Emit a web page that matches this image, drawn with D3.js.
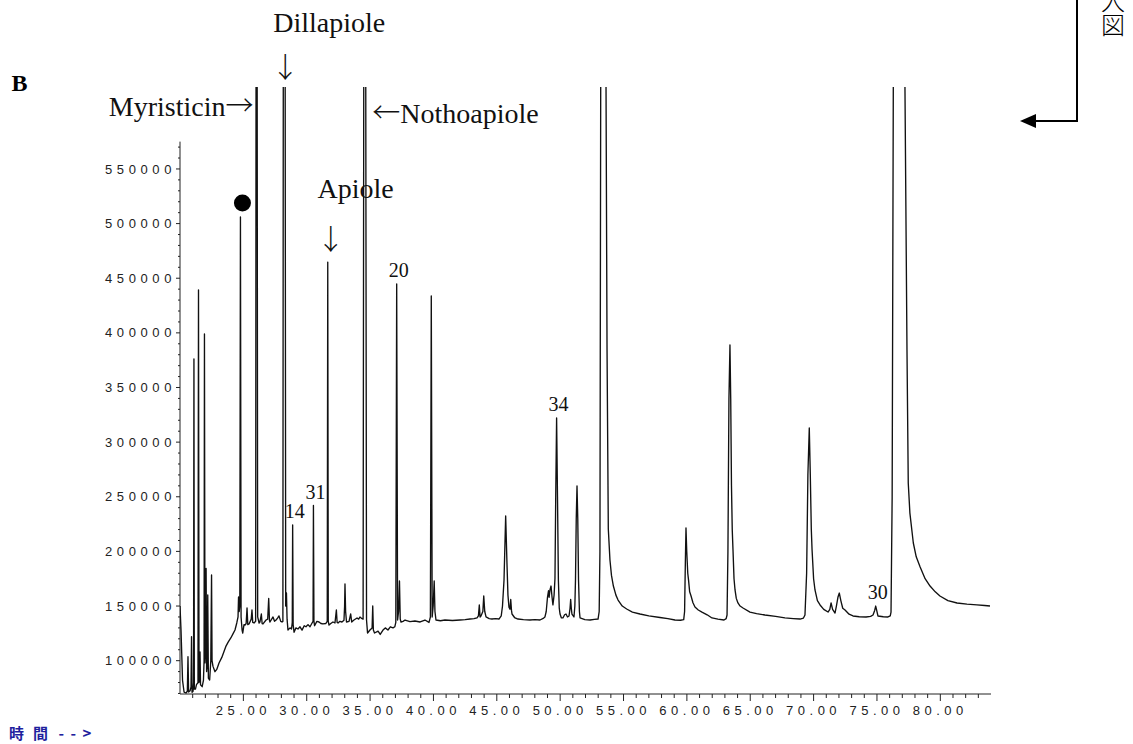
<!DOCTYPE html>
<html>
<head>
<meta charset="utf-8">
<script src="https://cdn.jsdelivr.net/npm/d3@7"></script>
<style>
  body { margin: 0; background: #fff; }
  svg { display: block; }
</style>
</head>
<body>
<div id="chart"></div>
<script>
// total ion chromatogram: [retention time (min), abundance]
const traceEarly = [
  [20.00, 150000], [20.08, 128000], [20.20, 82000], [20.32, 71300], [20.47, 70400],
  [20.58, 72000], [20.63, 103600], [20.68, 71300], [20.80, 72500], [20.87, 76000],
  [20.91, 121900], [20.95, 71000], [21.03, 72000], [21.07, 80000], [21.10, 376100],
  [21.13, 74000], [21.22, 74000], [21.30, 78000], [21.42, 80000], [21.46, 439200],
  [21.50, 80000], [21.55, 84000], [21.58, 107900], [21.62, 78000], [21.75, 76200],
  [21.85, 82000], [21.90, 100000], [21.93, 399000], [21.97, 98000], [22.02, 110000],
  [22.06, 184400], [22.10, 90000], [22.14, 95000], [22.19, 160100], [22.24, 84000],
  [22.34, 82300], [22.43, 100000], [22.49, 178400], [22.53, 100000], [22.60, 95000],
  [22.76, 89900], [22.90, 92000], [23.08, 97900], [23.30, 103000], [23.61, 112800],
  [23.80, 117000], [24.01, 120800], [24.20, 125000], [24.34, 128100], [24.48, 134500],
  [24.58, 140000], [24.62, 158300], [24.67, 145000], [24.72, 150000], [24.77, 506100],
  [24.82, 140000], [24.90, 128000], [24.95, 125300], [25.05, 133000], [25.13, 132600],
  [25.22, 134000], [25.29, 148200], [25.35, 133000], [25.45, 133600], [25.62, 138000],
  [25.68, 146400], [25.74, 135000], [25.84, 134500], [25.97, 136000], [26.00, 625000],
  [26.04, 900000], [26.09, 625000], [26.13, 140000], [26.24, 134500], [26.31, 135400],
  [26.42, 142700], [26.48, 134000], [26.55, 133600], [26.79, 137200], [26.92, 138000],
  [27.00, 156900], [27.06, 137000], [27.10, 135400], [27.34, 140000], [27.46, 136000],
  [27.58, 137200], [27.70, 139000], [27.81, 141000], [27.95, 136000], [28.05, 135400],
  [28.12, 136000], [28.15, 625000], [28.23, 900000], [28.30, 625000], [28.34, 150000],
  [28.40, 161900], [28.45, 138000], [28.52, 128100]
];

const traceMiddle = [
  [28.68, 130000], [28.80, 129000], [28.86, 135000], [28.89, 224200], [28.93, 133000],
  [29.00, 126000], [29.15, 130000], [29.31, 129000], [29.47, 131000], [29.63, 128000],
  [29.80, 132000], [29.94, 131000], [30.10, 133000], [30.26, 131000], [30.40, 134000],
  [30.50, 136000], [30.53, 242000], [30.57, 136000], [30.62, 132000], [30.80, 136000],
  [30.97, 135400], [31.12, 134000], [31.28, 133600], [31.50, 134000], [31.62, 136000],
  [31.66, 464800], [31.70, 136000], [31.76, 132600], [31.90, 134000], [32.07, 135400],
  [32.23, 134500], [32.34, 146400], [32.40, 135000], [32.47, 134500], [32.62, 136000],
  [32.78, 135400], [32.94, 137000], [32.99, 150000], [33.02, 170200], [33.07, 145000],
  [33.14, 135400], [33.34, 136000], [33.47, 142700], [33.55, 135400], [33.70, 137000],
  [33.97, 139100], [34.10, 138000], [34.20, 140000], [34.30, 139000], [34.45, 138000],
  [34.50, 625000], [34.58, 900000], [34.66, 625000], [34.72, 137200], [34.80, 125300],
  [34.99, 128100], [35.16, 130000], [35.21, 150000], [35.26, 128000], [35.35, 125300],
  [35.63, 127000], [35.80, 124000], [36.02, 128000], [36.20, 130000], [36.41, 128100],
  [36.60, 131000], [36.81, 130000], [36.95, 131000], [37.03, 135000], [37.10, 444700],
  [37.17, 137200], [37.25, 145000], [37.32, 172900], [37.38, 138000], [37.44, 135400],
  [37.60, 136000], [37.76, 137200], [38.15, 135800], [38.54, 136300], [38.95, 135400],
  [39.33, 137200], [39.65, 135000], [39.76, 140000], [39.83, 433700], [39.90, 140000],
  [39.98, 150000], [40.06, 172900], [40.12, 145000], [40.20, 137200], [40.55, 136500],
  [40.91, 137200], [41.50, 136800], [42.10, 137200], [42.50, 137500], [42.89, 138100],
  [43.20, 138500], [43.44, 139100], [43.55, 141000], [43.62, 151000], [43.68, 140000],
  [43.75, 140900], [43.90, 145000], [43.97, 159200], [44.05, 145000], [44.15, 140000],
  [44.40, 138500], [44.62, 138100], [44.90, 138500], [45.17, 138100]
];

const traceLate = [
  [45.35, 141000], [45.45, 150000], [45.57, 173800], [45.70, 232400], [45.80, 190000],
  [45.88, 160000], [45.96, 149000], [46.04, 147000], [46.10, 156000], [46.16, 146000],
  [46.20, 142700], [46.40, 139500], [46.67, 138100], [47.10, 137500], [47.62, 137200],
  [48.00, 137500], [48.41, 137200], [48.70, 139000], [48.80, 140000], [48.90, 145000],
  [49.00, 158000], [49.08, 164000], [49.13, 158000], [49.20, 165000], [49.28, 168300],
  [49.36, 158000], [49.43, 151000], [49.52, 160000], [49.59, 175000], [49.65, 250000],
  [49.72, 322100], [49.79, 250000], [49.86, 173800], [49.93, 148000], [49.99, 142700],
  [50.10, 139100], [50.22, 139100], [50.35, 142000], [50.46, 142700], [50.58, 140000],
  [50.70, 140900], [50.78, 148000], [50.83, 156000], [50.88, 148000], [50.93, 142700],
  [51.09, 140000], [51.16, 150000], [51.21, 173800], [51.27, 230000], [51.33, 259900],
  [51.39, 230000], [51.45, 173800], [51.52, 145000], [51.57, 139100], [51.95, 137500],
  [52.36, 137200], [52.70, 137800], [52.99, 138100], [53.08, 145000], [53.14, 200000],
  [53.20, 625000], [53.41, 900000], [53.62, 625000], [53.70, 384300], [53.80, 220500],
  [53.93, 192100], [54.05, 178000], [54.20, 168300], [54.40, 160000], [54.57, 155500],
  [54.90, 150000], [55.25, 147300], [55.70, 144500], [56.30, 142700], [57.00, 141000],
  [57.88, 139500], [58.50, 138500], [59.06, 137200], [59.50, 137000], [59.75, 137500],
  [59.82, 145000], [59.88, 190000], [59.93, 221400], [59.99, 200000], [60.07, 180000]
];

const traceEnd = [
  [60.13, 174000], [60.22, 163000], [60.33, 159200], [60.48, 153000], [60.64, 149100],
  [60.90, 146400], [61.19, 144500], [61.60, 142000], [61.98, 139100], [62.45, 138000],
  [62.93, 137200], [63.10, 138500], [63.17, 141800], [63.24, 200000], [63.32, 340000],
  [63.40, 388900], [63.46, 340000], [63.52, 260000], [63.58, 220000], [63.64, 201300],
  [63.72, 175000], [63.80, 164700], [63.90, 157000], [64.03, 152800], [64.20, 150000],
  [64.43, 148200], [64.98, 144500], [65.50, 143000], [66.16, 141800], [67.00, 140500],
  [67.74, 139100], [68.40, 138500], [68.93, 138100], [69.20, 139000], [69.32, 141800],
  [69.45, 180000], [69.55, 270000], [69.66, 313000], [69.74, 270000], [69.82, 220000],
  [69.88, 201300], [70.00, 175000], [70.11, 164700], [70.30, 155000], [70.51, 151000],
  [70.80, 147000], [71.14, 144500], [71.28, 147000], [71.38, 152800], [71.50, 147000],
  [71.69, 143600], [71.80, 150000], [71.92, 158000], [72.03, 161900], [72.15, 155000],
  [72.30, 148000], [72.48, 146400], [72.80, 142500], [73.11, 140900], [73.60, 140200],
  [74.14, 140000], [74.50, 140500], [74.69, 141800], [74.82, 146000], [74.90, 150000],
  [74.98, 146000], [75.08, 140900], [75.50, 140200], [75.87, 140000], [76.05, 141000],
  [76.11, 144500], [76.20, 250000], [76.29, 625000], [76.74, 1200000], [77.21, 625000],
  [77.37, 384300], [77.47, 262600], [77.60, 235000], [77.87, 207700], [78.10, 195000],
  [78.40, 186000], [78.80, 175000], [79.19, 168300], [79.60, 163000], [79.97, 159200],
  [80.60, 155000], [81.32, 152800], [82.10, 151800], [82.89, 151000], [83.50, 150500],
  [83.92, 150000]
];

const xMajorTicks = [25, 30, 35, 40, 45, 50, 55, 60, 65, 70, 75, 80];
const xMinorTicks = d3.range(21, 84);
const yMajorTicks = [100000, 150000, 200000, 250000, 300000, 350000, 400000, 450000, 500000, 550000];
const yMinorTicks = d3.range(70000, 575000, 10000);

// numbered peaks: [label, retention time, apex abundance]
const peakNumbers = [
  ["14", 28.89, 224200],
  ["31", 30.53, 242000],
  ["20", 37.10, 444700],
  ["34", 49.72, 322100],
  ["30", 74.90, 150000]
];

const width = 1133, height = 744;
const margin = { top: 87, left: 180 };
const plotW = 811, plotH = 607;

const svg = d3.select("#chart").append("svg")
  .attr("width", width)
  .attr("height", height);

const x = d3.scaleLinear().domain([20, 84]).range([margin.left, margin.left + plotW]);
const y = d3.scaleLinear().domain([69500, 625000]).range([margin.top + plotH, margin.top]);

svg.append("defs").append("clipPath").attr("id", "plot")
  .append("rect")
  .attr("x", margin.left).attr("y", margin.top)
  .attr("width", plotW).attr("height", plotH);

const axisFont = "'Liberation Sans', Arial, sans-serif";
const serif = "'Liberation Serif', 'Times New Roman', serif";
const cjk = "'Noto Sans CJK JP', sans-serif";

// axes lines
const axis = svg.append("g").attr("stroke", "#222").attr("stroke-width", 1);
const y0 = y(69500);
axis.append("line")
  .attr("x1", x(20)).attr("x2", x(84))
  .attr("y1", y0).attr("y2", y0);
axis.append("line")
  .attr("x1", x(20)).attr("x2", x(20))
  .attr("y1", y0).attr("y2", y(575000));

// x ticks
axis.selectAll(".xminor").data(xMinorTicks).enter().append("line")
  .attr("x1", d => x(d)).attr("x2", d => x(d))
  .attr("y1", y0).attr("y2", d => y0 + (d % 5 === 0 ? 7 : 4));

svg.selectAll(".xlabel").data(xMajorTicks).enter().append("text")
  .attr("x", d => x(d))
  .attr("y", y0 + 21)
  .attr("text-anchor", "middle")
  .attr("font-family", axisFont)
  .attr("font-size", 13)
  .attr("letter-spacing", 4.5)
  .attr("fill", "#222")
  .text(d => d.toFixed(2));

// y ticks
axis.selectAll(".yminor").data(yMinorTicks).enter().append("line")
  .attr("x1", x(20)).attr("x2", d => x(20) - (d % 50000 === 0 ? 4 : 2))
  .attr("y1", d => y(d)).attr("y2", d => y(d));

svg.selectAll(".ylabel").data(yMajorTicks).enter().append("text")
  .attr("x", x(20) - 4)
  .attr("y", d => y(d))
  .attr("dy", 4.6)
  .attr("text-anchor", "end")
  .attr("font-family", axisFont)
  .attr("font-size", 13)
  .attr("letter-spacing", 4.6)
  .attr("fill", "#222")
  .text(d => d);

// the trace
const trace = traceEarly.concat(traceMiddle, traceLate, traceEnd);
const line = d3.line().x(d => x(d[0])).y(d => y(d[1]));
svg.append("path")
  .datum(trace)
  .attr("clip-path", "url(#plot)")
  .attr("fill", "none")
  .attr("stroke", "#111")
  .attr("stroke-width", 1.35)
  .attr("stroke-linejoin", "round")
  .attr("d", line);

// peak numbers
svg.selectAll(".pnum").data(peakNumbers).enter().append("text")
  .attr("x", d => x(d[1]) + 2)
  .attr("y", d => y(d[2]) - 7)
  .attr("text-anchor", "middle")
  .attr("font-family", serif)
  .attr("font-size", 20)
  .attr("fill", "#111")
  .text(d => d[0]);

// compound names, arrows set in a CJK face (full width, like the original)
function label(parts, xp, yp, anchor) {
  const t = svg.append("text")
    .attr("x", xp).attr("y", yp)
    .attr("text-anchor", anchor || "start")
    .attr("font-family", serif)
    .attr("font-size", 28)
    .attr("fill", "#111");
  parts.forEach(p => {
    const s = t.append("tspan").text(p);
    if (/[\u2190-\u2193]/.test(p)) s.attr("font-family", cjk).attr("font-weight", 300);
  });
}
label(["Dillapiole"], x(28.23) - 11, 31.5);
label(["\u2193"], x(28.23) + 1, 78, "middle");
label(["Myristicin", "\u2192"], x(26.04) - 3, 115.5, "end");
label(["\u2190", "Nothoapiole"], x(34.58) + 7.5, 123);
label(["Apiole"], x(31.66) - 10.3, 198);
label(["\u2193"], x(31.66) + 3, 250, "middle");

// marker dot over the 24.8 min peak
svg.append("circle")
  .attr("cx", x(24.77) + 2)
  .attr("cy", y(506100) - 14)
  .attr("r", 8.5)
  .attr("fill", "#000");

// panel letter
svg.append("text")
  .attr("x", 11.5).attr("y", 90.5)
  .attr("font-family", serif)
  .attr("font-weight", "bold")
  .attr("font-size", 24)
  .text("B");

// time axis caption
svg.append("text")
  .attr("x", "9 33 58.5 70.5 82.5")
  .attr("y", 738.5)
  .attr("font-family", "'Noto Sans CJK JP', 'DejaVu Sans Mono', monospace")
  .attr("font-size", 15)
  .attr("font-weight", 700)
  .attr("fill", "#1f1f9e")
  .text("時間-->");

// pointer to the inset in the upper right
svg.append("path")
  .attr("d", "M1077,0 V121 H1034")
  .attr("fill", "none")
  .attr("stroke", "#000")
  .attr("stroke-width", 2);
svg.append("path")
  .attr("d", "M1020,121 L1036,114 L1036,128 Z")
  .attr("fill", "#000");
svg.append("text")
  .attr("x", 1113).attr("y", -11)
  .attr("font-family", cjk)
  .attr("font-size", 24)
  .attr("font-weight", 300)
  .style("writing-mode", "vertical-rl")
  .text("入図");
</script>
</body>
</html>
